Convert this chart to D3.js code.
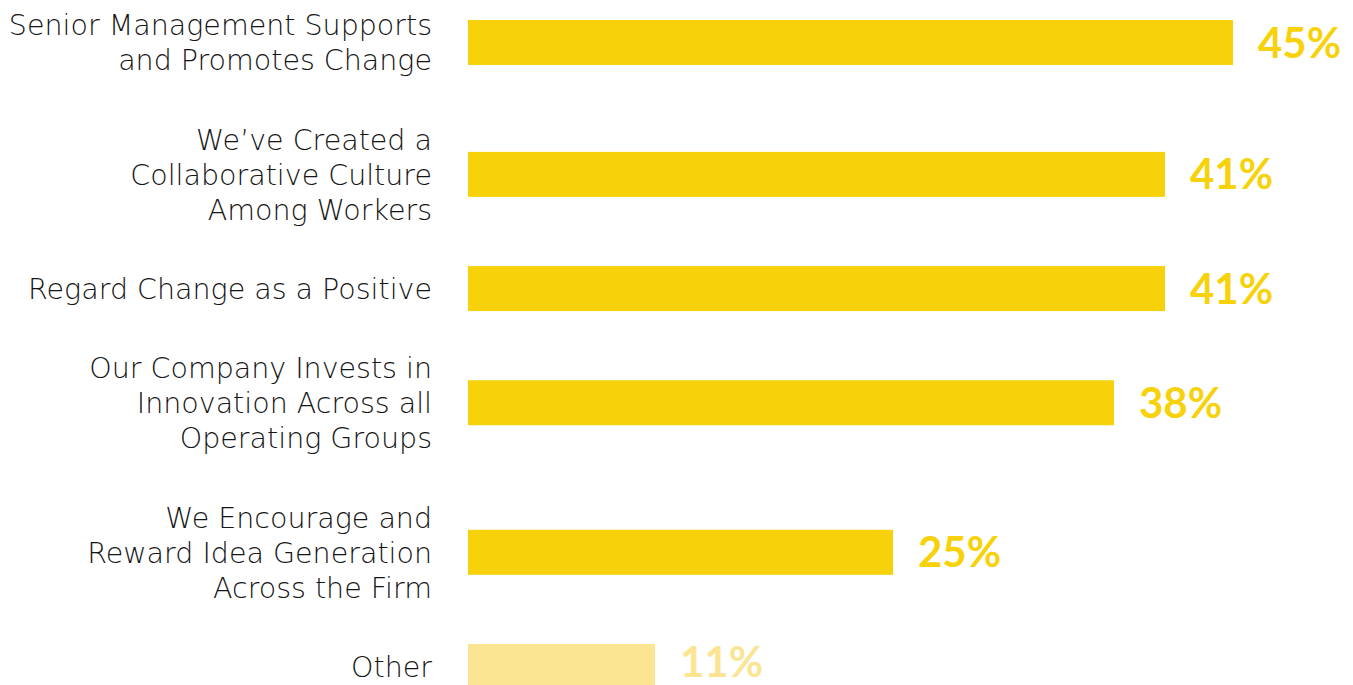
<!DOCTYPE html>
<html>
<head>
<meta charset="utf-8">
<script src="https://cdn.jsdelivr.net/npm/d3@7"></script>
<style>
  html, body { margin: 0; padding: 0; background: #fff; }
  svg { display: block; }
</style>
</head>
<body>
<svg id="chart" width="1353" height="685"></svg>
<script>
// Survey responses: what drives an innovative culture
const categories = [
  ["Senior Management Supports", "and Promotes Change"],
  ["We\u2019ve Created a", "Collaborative Culture", "Among Workers"],
  ["Regard Change as a Positive"],
  ["Our Company Invests in", "Innovation Across all", "Operating Groups"],
  ["We Encourage and", "Reward Idea Generation", "Across the Firm"],
  ["Other"]
];
const values = [45, 41, 41, 38, 25, 11];
const highlight = [true, true, true, true, true, false];

const svg = d3.select("#chart");
const rows = categories.map((c, i) => ({ lines: c, value: values[i], strong: highlight[i], key: i }));

// Layout constants
const lineH = 35;       // label line height
const rowPad = 43;      // extra space between neighbouring rows
const barH = 45;
const labelRight = 432;

// Each row's centre advances by the half-heights of its own and the previous label block
let acc = 0;
rows.forEach((d, i) => {
  if (i > 0) acc += (rows[i - 1].lines.length + d.lines.length) * lineH / 2 + rowPad;
  d.pos = acc;
});

const x = d3.scaleLinear().domain([0, 45]).range([468, 1233]);
const y = d3.scaleLinear().domain([0, acc]).range([42.5, 666.5]);

const barColor = "#F7D20A";
const lightColor = "#FBE593";

const g = svg.append("g");

g.selectAll("rect.bar")
  .data(rows)
  .join("rect")
  .attr("class", "bar")
  .attr("x", x(0))
  .attr("y", d => y(d.pos) - barH / 2)
  .attr("width", d => x(d.value) - x(0))
  .attr("height", barH)
  .attr("fill", d => d.strong ? barColor : lightColor);

// Category labels, right-aligned, centred on their bar
const labels = g.selectAll("text.cat")
  .data(rows)
  .join("text")
  .attr("class", "cat")
  .attr("text-anchor", "end")
  .attr("fill", "#151515")
  .style("font-family", "'DejaVu Sans', sans-serif")
  .style("font-weight", 200)
  .style("font-size", "28.5px");

labels.each(function(d) {
  const cy = y(d.pos);
  const n = d.lines.length;
  d3.select(this).selectAll("tspan")
    .data(d.lines)
    .join("tspan")
    .attr("x", labelRight)
    .attr("y", (l, j) => cy + (j - (n - 1) / 2) * lineH)
    .attr("dy", "0.36em")
    .text(l => l);
});

// Value labels at the end of each bar
g.selectAll("text.val")
  .data(rows)
  .join("text")
  .attr("class", "val")
  .attr("x", d => x(d.value) + 25)
  .attr("y", d => Math.min(y(d.pos), 662))
  .attr("dy", "0.36em")
  .attr("fill", d => d.strong ? barColor : lightColor)
  .style("font-family", "Lato, sans-serif")
  .style("font-weight", 700)
  .style("font-size", "42px")
  .text(d => d.value + "%");
</script>
</body>
</html>
